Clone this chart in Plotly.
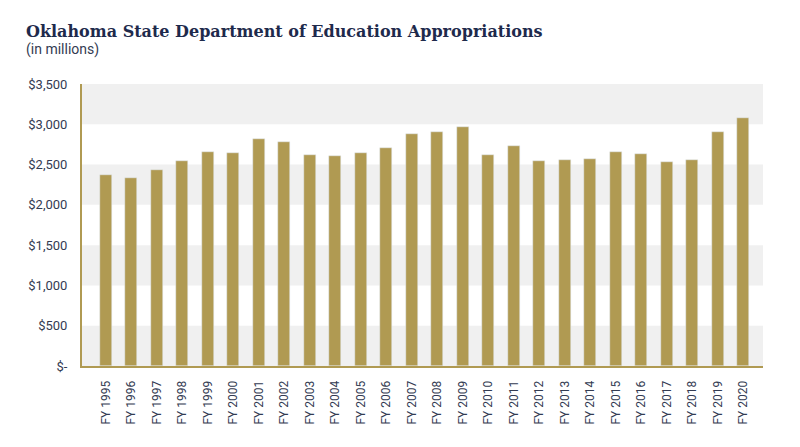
import plotly.graph_objects as go

years = [f"FY {y}" for y in range(1995, 2021)]
appropriations = [2371, 2329, 2433, 2548, 2660, 2644, 2817, 2776, 2615, 2606,
                  2647, 2706, 2875, 2904, 2970, 2623, 2734, 2544, 2552, 2569,
                  2656, 2635, 2528, 2557, 2904, 3074]
tick_vals = [0, 500, 1000, 1500, 2000, 2500, 3000, 3500]
tick_text = ["$-", "$500", "$1,000", "$1,500", "$2,000", "$2,500", "$3,000", "$3,500"]

GOLD = "#b09a52"
BAND = "#f0f0f0"
TEXT = "#333b52"
NAVY = "#1e2a4c"

L, T, PW, PH = 82, 84, 681, 282

fig = go.Figure()
fig.add_trace(go.Bar(x=list(range(len(years))), y=appropriations, marker_color=GOLD,
                     width=0.47, hoverinfo="y"))

shapes = []
for i in range(0, len(tick_vals) - 1, 2):
    shapes.append(dict(type="rect", xref="paper", yref="y", x0=0, x1=1,
                       y0=tick_vals[i], y1=tick_vals[i + 1], fillcolor=BAND,
                       line_width=0, layer="below"))

fig.update_layout(
    width=800, height=447,
    margin=dict(l=L, r=800 - L - PW, t=T, b=447 - T - PH),
    plot_bgcolor="white", paper_bgcolor="white",
    showlegend=False,
    shapes=shapes,
    bargap=0,
    annotations=[
        dict(text="Oklahoma State Department of Education Appropriations",
             xref="paper", yref="paper", x=(24 - L) / PW, y=1 + (T - 32) / PH,
             xanchor="left", yanchor="middle", showarrow=False,
             font=dict(family="DejaVu Serif", size=16, color=NAVY, weight="bold")),
        dict(text="(in millions)", xref="paper", yref="paper", x=(24 - L) / PW, y=1 + (T - 50) / PH,
             xanchor="left", yanchor="middle", showarrow=False,
             font=dict(family="Roboto", size=14, color=TEXT)),
    ],
)
fig.update_xaxes(
    range=[-0.94, 25.78], tickmode="array", tickvals=list(range(len(years))), ticktext=years,
    tickangle=-90, tickfont=dict(family="Roboto", size=12, color=TEXT),
    showgrid=False, zeroline=False, showline=True, linecolor=GOLD, linewidth=2,
    ticks="outside", ticklen=8, tickcolor="rgba(0,0,0,0)",
)
fig.update_yaxes(
    range=[0, 3500], tickmode="array", tickvals=tick_vals, ticktext=tick_text,
    tickfont=dict(family="Roboto", size=13, color=TEXT),
    showgrid=False, zeroline=False, showline=True, linecolor=GOLD, linewidth=2,
    ticks="outside", ticklen=10, tickcolor="rgba(0,0,0,0)",
)

fig.write_html("out.html", config={"displayModeBar": False},
               post_script="document.body.style.margin='0';")
